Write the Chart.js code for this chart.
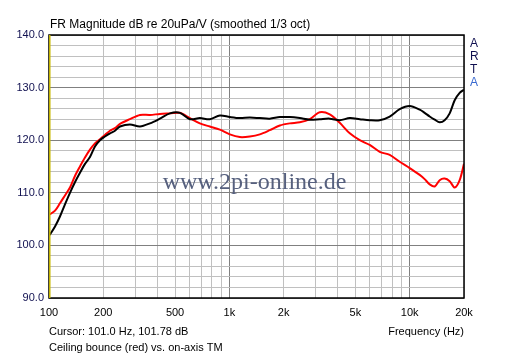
<!DOCTYPE html>
<html>
<head>
<meta charset="utf-8">
<script src="https://cdn.jsdelivr.net/npm/chart.js@4.4.1/dist/chart.umd.min.js"></script>
<style>
html,body{margin:0;padding:0;background:#fff;}
#wrap{width:512px;height:358px;position:relative;}
</style>
</head>
<body>
<div id="wrap"><canvas id="c" width="512" height="358"></canvas></div>
<script>
// Frequencies (Hz) at which both curves were read
const freqs = [101,108,115,122.6,130.7,139.3,148.5,158.3,168.7,179.8,191.7,204.3,217.8,232.1,247.4,281.1,319.4,362.8,412.1,468.2,531.9,604.2,686.4,779.8,885.9,1006,1143,1299,1476,1676,1905,2164,2458,2793,3172,3604,4094,4652,5284,6003,6820,7748,8802,10000,11360,12100,12907,13760,14662,15620,16658,17755,18924,20000];
// On-axis (black) magnitude, dB
const onAxis = [102.0,103.6,105.5,107.8,110.0,112.0,113.8,115.5,116.8,118.8,120.0,120.7,121.3,121.8,122.6,123.0,122.6,123.2,124.1,125.1,125.2,124.0,124.2,124.0,124.7,124.4,124.2,124.3,124.2,124.1,124.4,124.4,124.2,123.9,124.0,124.1,123.8,124.2,124.0,123.8,123.8,124.5,125.9,126.5,125.8,125.2,124.5,123.9,123.4,123.8,125.1,127.6,129.0,129.6];
// Ceiling bounce (red) magnitude, dB
const ceiling = [105.9,106.6,108.0,109.5,111.0,113.2,115.0,116.7,118.2,119.4,120.2,121.0,121.8,122.3,123.1,124.0,124.8,124.8,125.0,125.1,125.2,124.2,123.2,122.6,122.0,121.1,120.6,120.7,121.1,121.9,122.8,123.2,123.4,124.0,125.3,124.9,123.3,121.3,120.0,119.1,117.8,117.2,115.9,114.7,113.4,112.6,111.6,111.2,112.4,112.7,112.2,111.0,112.4,115.5];

const xGrid = [100,200,300,400,500,600,700,800,900,1000,2000,3000,4000,5000,6000,7000,8000,9000,10000,20000];
const xMajor = [1000,10000];
const xLabels = {100:'100',200:'200',500:'500',1000:'1k',2000:'2k',5000:'5k',10000:'10k',20000:'20k'};
const yMin = 90, yMax = 140, yStep = 2;
const cursorFreq = 101.0;
const titleText = 'FR Magnitude dB re 20uPa/V (smoothed 1/3 oct)';
const cursorText = 'Cursor: 101.0 Hz, 101.78 dB';
const xTitle = 'Frequency (Hz)';
const noteText = 'Ceiling bounce (red) vs. on-axis TM';
const watermark = 'www.2pi-online.de';
const sideLetters = ['A','R','T','A'];

const SANS = '"Liberation Sans", Arial, sans-serif';

const decor = {
  id:'decor',
  beforeDatasetsDraw(chart){
    const ctx = chart.ctx, a = chart.chartArea;
    ctx.save();
    ctx.font = '24px "Liberation Serif", "Times New Roman", serif';
    ctx.fillStyle = '#56607e';
    ctx.textAlign = 'center';
    ctx.textBaseline = 'alphabetic';
    ctx.fillText(watermark, (a.left+a.right)/2 - 2, 189);
    ctx.restore();
  },
  afterDatasetsDraw(chart){
    const ctx = chart.ctx, a = chart.chartArea;
    const xs = chart.scales.x;
    ctx.save();
    ctx.strokeStyle = '#000';
    ctx.lineWidth = 1.5;
    ctx.strokeRect(a.left, a.top, a.right-a.left, a.bottom-a.top);
    const cx = xs.getPixelForValue(cursorFreq);
    ctx.strokeStyle = '#c8b800';
    ctx.lineWidth = 1.5;
    ctx.beginPath(); ctx.moveTo(cx, a.top); ctx.lineTo(cx, a.bottom); ctx.stroke();

    ctx.fillStyle = '#000';
    ctx.textBaseline = 'alphabetic';
    ctx.textAlign = 'left';
    ctx.font = '12px ' + SANS;
    ctx.fillText(titleText, a.left + 1, 28);
    ctx.font = '11px ' + SANS;
    ctx.fillText(cursorText, a.left, 335);
    ctx.fillText(noteText, a.left, 351);
    ctx.textAlign = 'right';
    ctx.fillText(xTitle, a.right, 335);

    ctx.textAlign = 'left';
    ctx.font = '12px ' + SANS;
    const colors = ['#101050','#101050','#101050','#3a6ad0'];
    sideLetters.forEach((s,i)=>{
      ctx.fillStyle = colors[i];
      ctx.fillText(s, a.right + 6, 47 + i*13);
    });
    ctx.restore();
  }
};

new Chart(document.getElementById('c'), {
  type:'line',
  data:{
    datasets:[
      {label:'On-axis', data: freqs.map((f,i)=>({x:f,y:onAxis[i]})), borderColor:'#000', borderWidth:2, pointRadius:0, tension:0.3, fill:false},
      {label:'Ceiling bounce', data: freqs.map((f,i)=>({x:f,y:ceiling[i]})), borderColor:'#ff0000', borderWidth:2, pointRadius:0, tension:0.3, fill:false}
    ]
  },
  options:{
    responsive:false,
    animation:false,
    events:[],
    layout:{padding:{left:0,right:48,top:35,bottom:0}},
    plugins:{legend:{display:false},tooltip:{enabled:false},title:{display:false}},
    scales:{
      x:{
        type:'logarithmic', min:100, max:20000,
        afterBuildTicks(s){ s.ticks = xGrid.map(v=>({value:v})); },
        afterFit(s){ s.height = 60; },
        grid:{color:c=> (c.tick && xMajor.includes(c.tick.value)) ? '#808080' : '#c0c0c0', drawTicks:false, lineWidth:1},
        border:{display:false},
        ticks:{autoSkip:false, maxRotation:0, padding:8, color:'#000', font:{family:SANS, size:11},
          callback:(v)=> xLabels[v] || ''}
      },
      y:{
        type:'linear', min:yMin, max:yMax,
        afterFit(s){ s.width = 49; },
        grid:{color:c=> (c.tick && c.tick.value % 10 === 0) ? '#808080' : '#c0c0c0', drawTicks:false, lineWidth:1},
        border:{display:false},
        ticks:{stepSize:yStep, autoSkip:false, padding:5, color:'#101050', font:{family:SANS, size:11},
          callback:(v)=> (v % 10 === 0) ? v.toFixed(1) : ''}
      }
    }
  },
  plugins:[decor]
});
</script>
</body>
</html>
